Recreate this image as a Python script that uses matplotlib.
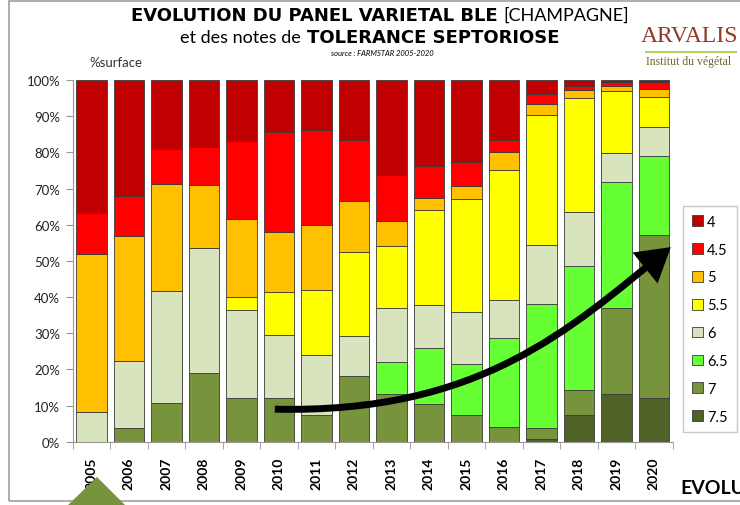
import matplotlib
matplotlib.use("Agg")
import matplotlib.pyplot as plt
import numpy as np
from matplotlib.patches import FancyArrowPatch, Polygon, Rectangle
from matplotlib.path import Path

plt.rcParams["font.family"] = ["Lato", "DejaVu Sans"]

years = [str(y) for y in range(2005, 2021)]
notes = ["7.5", "7", "6.5", "6", "5.5", "5", "4.5", "4"]  # stacking order, bottom to top

# % of surface per tolerance note
note_7_5 = [0, 0, 0, 0, 0, 0, 0, 0, 0, 0, 0, 0, 0.7, 7.5, 13.1, 12.1]
note_7 = [0, 3.8, 10.6, 18.9, 12.1, 12.0, 7.5, 18.1, 13.1, 10.4, 7.5, 4.0, 3.1, 6.9, 24.0, 45.1]
note_6_5 = [0, 0, 0, 0, 0, 0, 0, 0, 8.8, 15.4, 14.0, 24.8, 34.2, 34.3, 34.6, 21.7]
note_6 = [8.1, 18.4, 31.0, 34.6, 24.4, 17.5, 16.6, 11.2, 15.2, 12.0, 14.3, 10.5, 16.4, 14.7, 8.1, 8.2]
note_5_5 = [0, 0, 0, 0, 3.6, 12.0, 17.8, 23.1, 17.1, 26.3, 31.3, 35.9, 35.9, 31.5, 17.2, 8.3]
note_5 = [43.7, 34.8, 29.6, 17.6, 21.5, 16.4, 18.0, 14.1, 6.9, 3.2, 3.7, 4.8, 3.1, 2.3, 1.4, 2.1]
note_4_5 = [11.4, 11.0, 9.7, 10.3, 21.6, 27.6, 26.3, 17.0, 12.6, 9.0, 6.4, 3.5, 2.7, 1.2, 1.0, 1.9]
note_4 = [36.8, 32.0, 19.1, 18.6, 16.8, 14.5, 13.8, 16.5, 26.3, 23.7, 22.8, 16.5, 3.9, 1.6, 0.6, 0.6]

series = [note_7_5, note_7, note_6_5, note_6, note_5_5, note_5, note_4_5, note_4]
colors = ["#4F6228", "#77933C", "#66FF33", "#D7E4BD", "#FFFF00", "#FFC000", "#FF0000", "#C00000"]

W, H = 740, 506


def fx(px):
    return px / W


def fy(py):
    return 1 - py / H


fig = plt.figure(figsize=(7.4, 5.06), dpi=100)
ax = fig.add_axes([fx(72.7), fy(442.7), fx(672.7) - fx(72.7), fy(81) - fy(442.7)])

x = np.arange(len(years))
bottom = np.zeros(len(years))
handles = []
for name, vals, col in zip(notes, series, colors):
    vals = np.array(vals, dtype=float)
    bars = ax.bar(x, vals, bottom=bottom, width=0.82, color=col,
                  edgecolor="#3a3a3a", linewidth=0.6, label=name)
    handles.append(bars)
    bottom += vals

ax.set_xlim(-0.5, len(years) - 0.5)
ax.set_ylim(0, 100)
ax.set_yticks(np.arange(0, 101, 10))
ax.set_yticklabels([f"{v}%" for v in range(0, 101, 10)], fontsize=9.5, color="#222222")
ax.set_xticks(x)
ax.set_xticklabels(years, rotation=90, fontsize=10, fontweight="bold")
ax.set_xticks(np.arange(-0.5, len(years)), minor=True)
ax.tick_params(axis="x", which="major", length=0, pad=11)
ax.tick_params(axis="x", which="minor", length=5, color="#999999")
ax.tick_params(axis="y", length=5, color="#999999", pad=4)
for side in ["top", "right"]:
    ax.spines[side].set_visible(False)
for side in ["left", "bottom"]:
    ax.spines[side].set_color("#999999")

leg = ax.legend(handles[::-1], notes[::-1], loc="upper left",
                bbox_to_anchor=(fx(683), fy(207)), bbox_transform=fig.transFigure,
                fontsize=10.5, frameon=True, fancybox=False, edgecolor="#bbbbbb",
                handlelength=0.75, handleheight=0.75, handletextpad=0.3,
                labelspacing=0.95, borderpad=0.6, borderaxespad=0)
leg.get_frame().set_linewidth(1.0)

# trend arrow (cubic curve, in data coordinates)
verts = [(4.89, 9.0), (10.36, 7.7), (12.76, 31.2), (15.45, 53.8)]
codes = [Path.MOVETO, Path.CURVE4, Path.CURVE4, Path.CURVE4]
arrow = FancyArrowPatch(path=Path(verts, codes), arrowstyle="-|>,head_length=0.75,head_width=0.45",
                        mutation_scale=22, color="black", linewidth=5, shrinkA=0, shrinkB=0,
                        joinstyle="miter", capstyle="butt")
ax.add_patch(arrow)

# titles
bold_family = ["DejaVu Sans"]
fig.text(fx(498), fy(16), "EVOLUTION DU PANEL VARIETAL BLE", ha="right", va="center",
         fontsize=13, fontweight="bold", family=bold_family)
fig.text(fx(503), fy(16), "[CHAMPAGNE]", ha="left", va="center", fontsize=13)
fig.text(fx(301), fy(38), "et des notes de", ha="right", va="center", fontsize=13)
fig.text(fx(307), fy(38), "TOLERANCE SEPTORIOSE", ha="left", va="center",
         fontsize=13, fontweight="bold", family=bold_family)
fig.text(fx(382), fy(53), "source : FARMSTAR 2005-2020", ha="center", va="center",
         fontsize=5.5, style="italic")
fig.text(fx(116), fy(63), "%surface", ha="center", va="center", fontsize=9.5, color="#333333")

# logo
fig.text(fx(690), fy(37), "ARVALIS", ha="center", va="center", fontsize=17,
         family="Liberation Serif", color="#8E3A26")
fig.add_artist(Rectangle((fx(645), fy(54)), fx(737) - fx(645), 2.2 / H,
                         transform=fig.transFigure, color="#A9D45A", lw=0))
fig.text(fx(689), fy(62), "Institut du végétal", ha="center", va="center", fontsize=8.5,
         family="Liberation Serif", color="#6E6A2A")

# slide frame and decorations
fig.add_artist(Rectangle((fx(9), fy(502)), 1.2, fy(2) - fy(502), transform=fig.transFigure,
                         fill=False, edgecolor="#a0a0a0", lw=1.2))
fig.add_artist(Polygon([(fx(67), fy(507)), (fx(97), fy(478)), (fx(126), fy(507))],
                       closed=True, transform=fig.transFigure, color="#77933C", lw=0))
fig.text(fx(680), fy(489), "EVOLUTION", ha="left", va="center", fontsize=14, fontweight="bold")

fig.savefig("out.png", dpi=100)
